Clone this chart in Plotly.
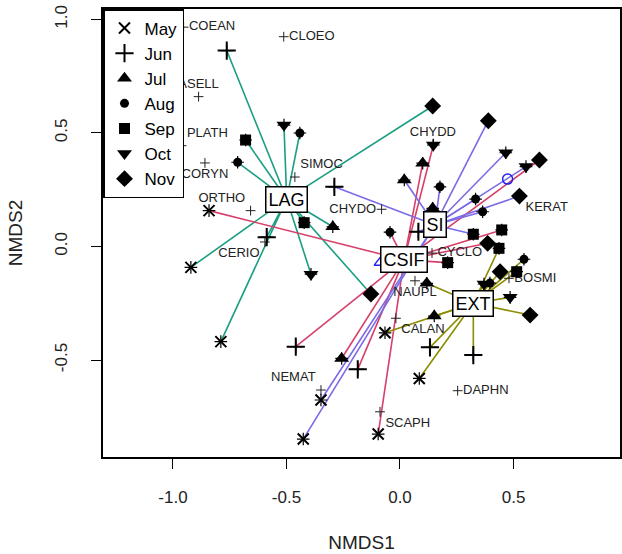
import plotly.graph_objects as go

# ---------------- data ----------------
months = ["May", "Jun", "Jul", "Aug", "Sep", "Oct", "Nov"]

site_group = (["LAG"] * 13 + ["CSIF"] * 12 + ["SI"] * 14 + ["EXT"] * 14)
site_month = [
    # LAG
    "Jun", "Oct", "Aug", "Sep", "Aug", "Nov", "Sep", "Jul", "Oct", "Nov", "May", "May", "Jun",
    # CSIF
    "May", "Oct", "Jul", "Aug", "Sep", "Sep", "Nov", "Nov", "Jun", "Jul", "Jun", "May",
    # SI
    "Jun", "Jul", "Aug", "Jul", "Nov", "Oct", "Oct", "Aug", "Aug", "Nov", "Sep", "Jun", "May", "May",
    # EXT
    "Sep", "Aug", "Nov", "Sep", "Oct", "Aug", "Oct", "Nov", "Jun", "Jun", "May", "Jul", "Jul", "May",
]
site_x = [
    -0.763, -0.511, -0.441, -0.680, -0.715, 0.144, -0.422, -0.296, -0.392, -0.128, -0.921, -0.789, -0.587,
    -0.841, 0.147, 0.100, -0.044, 0.210, 0.448, 0.386, 0.614, -0.459, -0.257, -0.186, -0.096,
    -0.289, 0.019, 0.176, 0.144, 0.389, 0.466, 0.555, 0.333, 0.364, 0.526, 0.323, 0.081, -0.348, -0.426,
    0.436, 0.546, 0.441, 0.514, 0.370, 0.396, 0.485, 0.573, 0.323, 0.132, 0.085, 0.118, 0.151, -0.066,
]
site_y = [
    0.863, 0.535, 0.500, 0.469, 0.371, 0.619, 0.105, 0.087, -0.122, -0.209, -0.092, -0.419, 0.041,
    0.158, 0.447, 0.367, 0.063, -0.071, 0.073, 0.014, 0.381, -0.441, -0.493, -0.541, -0.826,
    0.263, 0.293, 0.263, 0.168, 0.554, 0.413, 0.352, 0.209, 0.153, 0.222, 0.054, 0.065, -0.676, -0.848,
    -0.008, -0.056, -0.111, -0.111, -0.165, -0.161, -0.224, -0.302, -0.478, -0.444, -0.581, -0.162, -0.306, -0.380,
]

groups = ["LAG", "CSIF", "SI", "EXT"]
centroid_x = [-0.499, 0.018, 0.154, 0.323]
centroid_y = [0.209, -0.059, 0.095, -0.250]

species = ["COEAN", "CLOEO", "ASELL", "PLATH", "CORYN", "SIMOC", "ORTHO", "CHYDO", "CERIO",
           "CHYDD", "KERAT", "CYCLO", "BOSMI", "NAUPL", "CALAN", "DAPHN", "SCAPH", "NEMAT"]
species_x = [-0.953, -0.512, -0.887, -0.962, -0.859, -0.463, -0.658, -0.081, -0.595,
             0.145, 0.529, 0.141, 0.480, 0.066, -0.018, 0.254, -0.088, -0.348]
species_y = [0.966, 0.924, 0.660, 0.444, 0.368, 0.306, 0.158, 0.164, 0.020,
             0.450, 0.222, -0.029, -0.140, -0.151, -0.316, -0.635, -0.728, -0.632]

extra_x = [0.474, -0.088]
extra_y = [0.297, -0.071]

# ---------------- styles ----------------
group_colors = {"LAG": "#1A9E82", "CSIF": "#D7406B", "SI": "#7B6BE6", "EXT": "#8C8C00"}
month_symbols = {"May": "x-thin", "Jun": "cross-thin", "Jul": "triangle-up", "Aug": "circle",
                 "Sep": "square", "Oct": "triangle-down", "Nov": "diamond"}
month_sizes = {"May": 11, "Jun": 13, "Jul": 13, "Aug": 9, "Sep": 11, "Oct": 13, "Nov": 13}
species_textpos = ["middle right", "middle right", "top center", "top right", "bottom center",
                   "top right", "top left", "middle left", "bottom left", "top center",
                   "bottom right", "middle right", "middle right", "bottom center", "bottom right",
                   "middle right", "bottom right", "top left"]
FONT = "Liberation Sans, Arial, sans-serif"

fig = go.Figure()

# spider lines
for g, cx, cy in zip(groups, centroid_x, centroid_y):
    xs, ys = [], []
    for sg, sx, sy in zip(site_group, site_x, site_y):
        if sg == g:
            xs += [cx, sx, None]
            ys += [cy, sy, None]
    fig.add_trace(go.Scatter(x=xs, y=ys, mode="lines", showlegend=False, hoverinfo="skip",
                             line=dict(color=group_colors[g], width=1.6)))

# species crosses + labels
fig.add_trace(go.Scatter(
    x=species_x, y=species_y, mode="markers+text", text=species, textposition=species_textpos,
    showlegend=False, marker=dict(symbol="cross-thin", size=7, line=dict(color="#222", width=1)),
    textfont=dict(family=FONT, size=13, color="#222")))

# small default site crosses under month symbols
fig.add_trace(go.Scatter(x=site_x, y=site_y, mode="markers", showlegend=False, hoverinfo="skip",
                         marker=dict(symbol="cross-thin", size=9, line=dict(color="black", width=1.2))))

# extra blue open markers
fig.add_trace(go.Scatter(x=extra_x, y=extra_y, mode="markers", showlegend=False,
                         marker=dict(symbol=["circle-open", "triangle-up-open"], size=10,
                                     color="#2222EE", line=dict(width=1.5))))

# month symbols
for m in months:
    xs = [x for x, mm in zip(site_x, site_month) if mm == m]
    ys = [y for y, mm in zip(site_y, site_month) if mm == m]
    thin = m in ("May", "Jun")
    fig.add_trace(go.Scatter(
        x=xs, y=ys, mode="markers", name=m,
        marker=dict(symbol=month_symbols[m], size=month_sizes[m], color="black",
                    line=dict(color="black", width=2 if thin else 0))))

# centroid labels
for g, cx, cy in zip(groups, centroid_x, centroid_y):
    fig.add_annotation(x=cx, y=cy, text=g, showarrow=False,
                       font=dict(family=FONT, size=18, color="black"),
                       bgcolor="white", bordercolor="black", borderwidth=1.5, borderpad=2)

axis_common = dict(showline=True, linecolor="black", linewidth=1.5, mirror=True,
                   ticks="outside", ticklen=10, tickwidth=1.3, tickcolor="black",
                   showgrid=False, zeroline=False, automargin=False,
                   tickfont=dict(family=FONT, size=17, color="#222"),
                   title_font=dict(family=FONT, size=19, color="#222"))

fig.update_layout(
    width=622, height=554,
    margin=dict(l=103, r=2, t=9, b=97),
    paper_bgcolor="white", plot_bgcolor="white",
    xaxis=dict(range=[-1.308, 0.969], tickvals=[-1, -0.5, 0, 0.5],
               ticktext=["-1.0", "-0.5", "0.0", "0.5"], title_text="NMDS1",
               ticklabelstandoff=14, title_standoff=30, **axis_common),
    yaxis=dict(range=[-0.927, 1.046], tickvals=[-0.5, 0, 0.5, 1.0],
               ticktext=["-0.5", "0.0", "0.5", "1.0"], title_text="NMDS2", tickangle=-90,
               ticklabelstandoff=17, title_standoff=25, **axis_common),
    legend=dict(x=0, y=1, xanchor="left", yanchor="top", bgcolor="white",
                bordercolor="black", borderwidth=1.5,
                font=dict(family=FONT, size=17, color="black"), itemwidth=30,
                tracegroupgap=0),
    showlegend=True,
)

fig.write_html("out.html", config={"displayModeBar": False},
               post_script="document.body.style.margin='0';document.body.style.padding='0';")
